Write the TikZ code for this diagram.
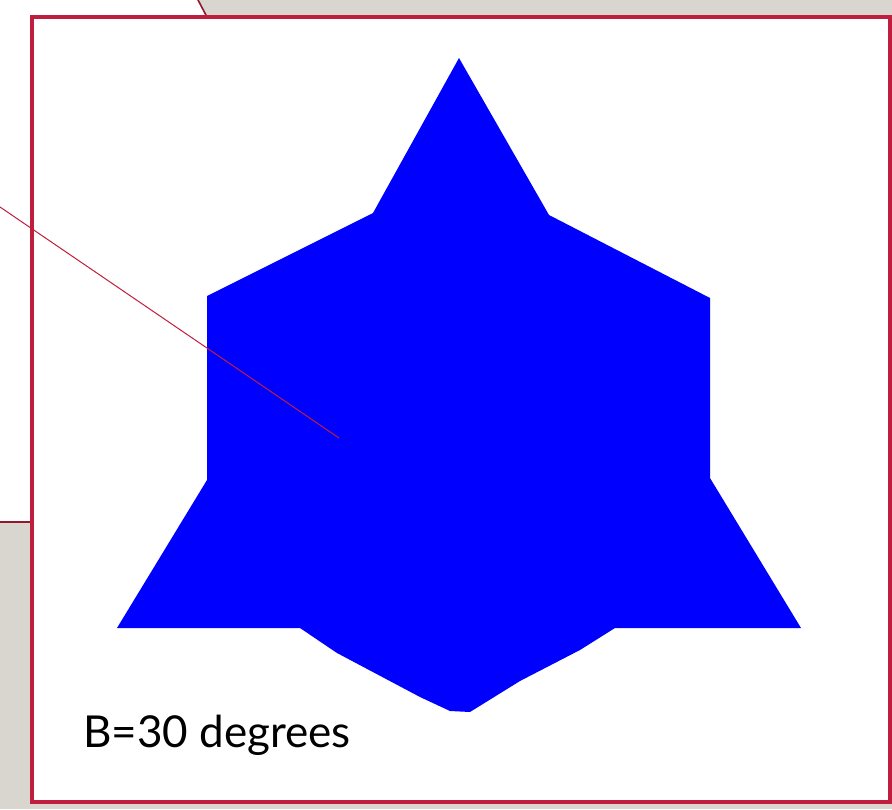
\documentclass[tikz,border=0pt]{standalone}
\usepackage{fontspec}
\setmainfont{Lato}
\definecolor{slidegrey}{RGB}{217,213,207}
\definecolor{crimsonline}{RGB}{192,30,62}
\definecolor{darkcrimson}{RGB}{150,22,46}
\definecolor{starblue}{RGB}{0,0,255}
\tikzset{
  calloutfill/.style={fill=white},
  calloutedge/.style={draw=darkcrimson, line width=1.6pt},
  framebox/.style={draw=crimsonline, fill=white, line width=3.5pt},
  starshape/.style={fill=starblue},
  pointer/.style={draw=crimsonline, line width=1pt},
  caption/.style={font=\fontsize{44}{48}\selectfont, text=black, inner sep=0pt, anchor=base west}
}
\begin{document}
\begin{tikzpicture}[x=1pt,y=-1pt]
\useasboundingbox (0,0) rectangle (892,809);
\fill[slidegrey] (0,0) rectangle (892,809);
% callout shape behind the picture
\fill[calloutfill] (0,0) -- (197,0) -- (240,80) -- (240,522) -- (0,522) -- cycle;
\draw[calloutedge] (197,-2) -- (240,80);
\draw[calloutedge] (0,522) -- (240,522);
% picture frame
\draw[framebox] (32,17) rectangle (890,802);
% star
\fill[starshape] (459,58) -- (549,215) -- (710,298) -- (710,478) -- (801,628)
  -- (615,628) -- (580,650) -- (520,681) -- (470,712) -- (450,711) -- (420,697)
  -- (337,653) -- (300,628) -- (117,628) -- (207,480) -- (207,296) -- (373,213) -- cycle;
% pointer line
\coordinate (pstart) at (0,207);
\coordinate (pend) at (339,438);
\draw[pointer] (pstart) -- (pend);
% caption
\node[caption] (cap) at (83,747) {B=30 degrees};
\end{tikzpicture}
\end{document}
